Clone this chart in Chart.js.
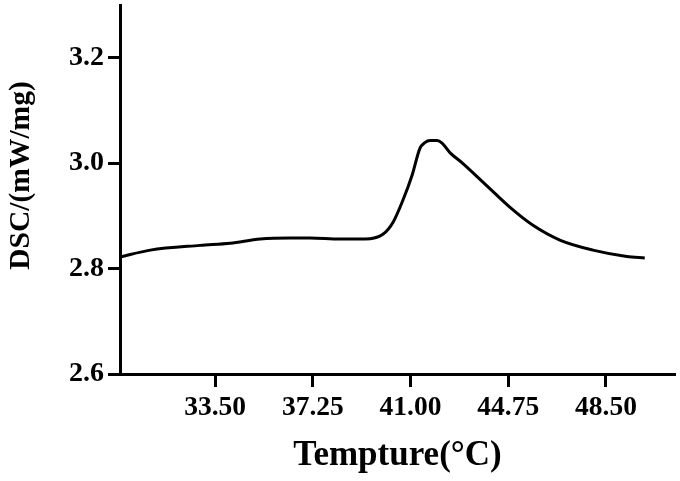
<!DOCTYPE html>
<html>
<head>
<meta charset="utf-8">
<script src="https://cdn.jsdelivr.net/npm/chart.js@4"></script>
<style>
  html, body { margin: 0; padding: 0; background: #fff; }
  #wrap { width: 680px; height: 481px; }
</style>
</head>
<body>
<div id="wrap"><canvas id="dscChart"></canvas></div>
<script>
// temperature (°C) and DSC signal (mW/mg)
const temps = [29.86, 31.01, 32.92, 34.08, 35.23, 36.38, 37.14, 38.29, 39.25, 39.94,
  40.33, 40.71, 41.06, 41.36, 41.55, 41.75, 42.02, 42.21, 42.51, 42.97,
  43.78, 44.82, 45.70, 46.73, 48.00, 49.30, 49.99];
const dsc = [2.822, 2.835, 2.844, 2.848, 2.856, 2.858, 2.858, 2.856, 2.856, 2.865,
  2.888, 2.930, 2.977, 3.028, 3.039, 3.043, 3.043, 3.038, 3.020, 3.001,
  2.964, 2.916, 2.882, 2.854, 2.835, 2.823, 2.820];
const xTicks = [33.50, 37.25, 41.00, 44.75, 48.50];
const yTicks = [2.6, 2.8, 3.0, 3.2];

const serif = "'Liberation Serif', 'Times New Roman', serif";

const points = temps.map((t, i) => ({x: t, y: dsc[i]}));

// nudge the y axis title a bit upward, like the original
const shiftYTitle = {
  id: 'shiftYTitle',
  beforeDraw(chart) {
    const s = chart.scales.y;
    if (s._wrapped) return;
    const orig = s.drawTitle;
    s.drawTitle = function () {
      this.ctx.save();
      this.ctx.translate(0, -14);
      orig.call(this);
      this.ctx.restore();
    };
    s._wrapped = true;
  }
};

new Chart(document.getElementById('dscChart').getContext('2d'), {
  type: 'line',
  data: {
    datasets: [{
      data: points,
      borderColor: '#000',
      borderWidth: 3,
      pointRadius: 0,
      cubicInterpolationMode: 'monotone',
      fill: false
    }]
  },
  options: {
    responsive: true,
    maintainAspectRatio: false,
    animation: false,
    layout: {
      padding: {top: 5, right: 5, left: 0, bottom: 0}
    },
    plugins: {
      legend: {display: false},
      tooltip: {enabled: false}
    },
    scales: {
      x: {
        type: 'linear',
        min: 29.85,
        max: 51.15,
        afterFit: (s) => { s.height = 107; s.paddingLeft = 0; s.paddingRight = 0; },
        afterBuildTicks: (s) => { s.ticks = xTicks.map(v => ({value: v})); },
        border: {color: '#000', width: 3},
        grid: {
          drawOnChartArea: false,
          color: '#000',
          tickLength: 13,
          tickWidth: 3
        },
        ticks: {
          color: '#000',
          padding: 4,
          maxRotation: 0,
          font: {family: serif, weight: 'bold', size: 27.5},
          callback: (v) => Number(v).toFixed(2)
        },
        title: {
          display: true,
          text: 'Tempture(°C)',
          color: '#000',
          padding: {top: 0, bottom: 4},
          font: {family: serif, weight: 'bold', size: 35}
        }
      },
      y: {
        min: 2.6,
        max: 3.3,
        afterFit: (s) => { s.width = 120; s.paddingTop = 0; s.paddingBottom = 0; },
        afterBuildTicks: (s) => { s.ticks = yTicks.map(v => ({value: v})); },
        border: {color: '#000', width: 3},
        grid: {
          drawOnChartArea: false,
          color: '#000',
          tickLength: 12,
          tickWidth: 3
        },
        ticks: {
          color: '#000',
          padding: 4,
          font: {family: serif, weight: 'bold', size: 28},
          callback: (v) => Number(v).toFixed(1)
        },
        title: {
          display: true,
          text: 'DSC/(mW/mg)',
          color: '#000',
          padding: {top: 4, bottom: 0},
          font: {family: serif, weight: 'bold', size: 29.5}
        }
      }
    }
  },
  plugins: [shiftYTitle]
});
</script>
</body>
</html>
